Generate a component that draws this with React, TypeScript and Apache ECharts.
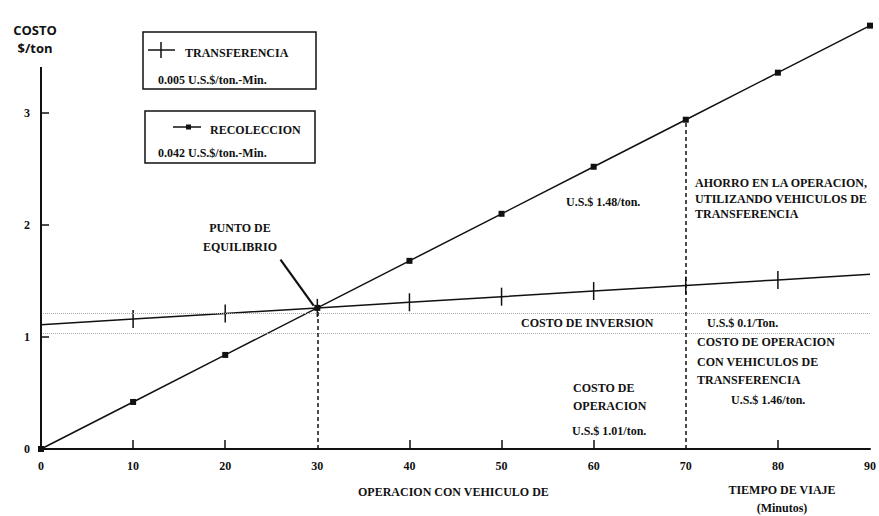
import React, { useEffect, useRef } from "react";
import * as echarts from "echarts";

const minutes = [0, 10, 20, 30, 40, 50, 60, 70, 80, 90];
const transferencia = [1.11, 1.16, 1.21, 1.26, 1.31, 1.36, 1.41, 1.46, 1.51, 1.56];
const recoleccion = [0, 0.42, 0.84, 1.26, 1.68, 2.1, 2.52, 2.94, 3.36, 3.78];
const yLabels = [0, 1, 2, 3];
const yTicks = [1, 2, 3];
const xLabels = [0, 10, 20, 30, 40, 50, 60, 70, 80, 90];
const xTicks = [10, 20, 40, 50, 60, 80];
const inversionBand = [1.21, 1.035];
const breakEven = [30, 1.26];
const compareAt = [70, 2.94];
const yAxisTop = 3.41;
const arrowFrom = [26, 1.69];

const SERIF = "Liberation Serif";
const SANS = "Open Sans";

const txt = (x: number, y: number, text: string, extra: any = {}) => ({
  type: "text",
  x,
  y,
  silent: true,
  style: {
    text,
    fill: "#111",
    fontFamily: SERIF,
    fontWeight: "bold",
    fontSize: 12,
    textVerticalAlign: "middle",
    ...extra,
  },
});

export default function App() {
  const ref = useRef<HTMLDivElement>(null);
  useEffect(() => {
    const chart = echarts.init(ref.current!, null, { renderer: "svg" });
    const option: any = {
      animation: false,
      backgroundColor: "#fff",
      grid: { left: 41, right: 2, top: 23.4, bottom: 67 },
      xAxis: {
        type: "value",
        min: 0,
        max: 90,
        interval: 10,
        splitLine: { show: false },
        axisLine: { show: true, lineStyle: { color: "#111", width: 2 } },
        axisTick: {
          show: true,
          inside: true,
          length: 9,
          customValues: xTicks,
          lineStyle: { color: "#111", width: 1.5 },
        },
        axisLabel: {
          customValues: xLabels,
          margin: 11,
          color: "#111",
          fontFamily: SERIF,
          fontWeight: "bold",
          fontSize: 12,
        },
      },
      yAxis: {
        type: "value",
        min: 0,
        max: 3.8,
        interval: 1,
        splitLine: { show: false },
        axisLine: { show: false },
        axisTick: {
          show: true,
          inside: true,
          length: 8,
          customValues: yTicks,
          lineStyle: { color: "#111", width: 1.5 },
        },
        axisLabel: {
          customValues: yLabels,
          margin: 11,
          color: "#111",
          fontFamily: SERIF,
          fontWeight: "bold",
          fontSize: 12,
        },
      },
      series: [
        {
          name: "TRANSFERENCIA",
          type: "line",
          clip: false,
          data: minutes.map((m, i) => ({
            value: [m, transferencia[i]],
            symbol: i === 0 || i === minutes.length - 1 ? "none" : "rect",
          })),
          symbolSize: [1.5, 18],
          itemStyle: { color: "#111" },
          lineStyle: { color: "#111", width: 1.5 },
          markLine: {
            silent: true,
            symbol: "none",
            label: { show: false },
            lineStyle: { color: "#aaa", type: "dotted", width: 1 },
            data: inversionBand.map((v) => ({ yAxis: v })),
          },
        },
        {
          name: "RECOLECCION",
          type: "line",
          clip: false,
          data: minutes.map((m, i) => [m, recoleccion[i]]),
          symbol: "rect",
          symbolSize: 6,
          itemStyle: { color: "#111" },
          lineStyle: { color: "#111", width: 1.5 },
          markLine: {
            silent: true,
            symbol: "none",
            label: { show: false },
            lineStyle: { color: "#111", type: [4, 3], width: 1.5 },
            data: [
              [{ coord: [breakEven[0], 0] }, { coord: breakEven }],
              [{ coord: [compareAt[0], 0] }, { coord: compareAt }],
              [
                { coord: [0, 0], lineStyle: { type: "solid", width: 2 } },
                { coord: [0, yAxisTop] },
              ],
              [
                { coord: arrowFrom, lineStyle: { type: "solid", width: 2.2 } },
                { coord: [breakEven[0] - 0.4, breakEven[1] + 0.02] },
              ],
            ],
          },
        },
      ],
      graphic: [
        txt(35, 30, "COSTO", { fontFamily: SANS, fontSize: 13, textAlign: "center" }),
        txt(35, 48, "$/ton", { fontFamily: SANS, fontSize: 13, textAlign: "center" }),
        {
          type: "rect",
          shape: { x: 143, y: 32, width: 173, height: 57 },
          style: { fill: "none", stroke: "#111", lineWidth: 1.5 },
        },
        { type: "line", shape: { x1: 148, y1: 50, x2: 175, y2: 50 }, style: { stroke: "#111", lineWidth: 1.5 } },
        { type: "line", shape: { x1: 161, y1: 42, x2: 161, y2: 58 }, style: { stroke: "#111", lineWidth: 1.5 } },
        txt(185, 53, "TRANSFERENCIA"),
        txt(158, 80, "0.005 U.S.$/ton.-Min."),
        {
          type: "rect",
          shape: { x: 145, y: 111, width: 170, height: 52 },
          style: { fill: "none", stroke: "#111", lineWidth: 1.5 },
        },
        { type: "line", shape: { x1: 173, y1: 127, x2: 201, y2: 127 }, style: { stroke: "#111", lineWidth: 1.5 } },
        { type: "rect", shape: { x: 186, y: 124.5, width: 5, height: 5 }, style: { fill: "#111" } },
        txt(210, 130, "RECOLECCION"),
        txt(158, 153, "0.042 U.S.$/ton.-Min."),
        txt(240, 228, "PUNTO DE", { textAlign: "center" }),
        txt(240, 247, "EQUILIBRIO", { textAlign: "center" }),
        txt(566, 202, "U.S.$ 1.48/ton."),
        txt(695, 183, "AHORRO EN LA OPERACION,"),
        txt(695, 199, "UTILIZANDO VEHICULOS DE"),
        txt(695, 214, "TRANSFERENCIA"),
        txt(521, 323, "COSTO DE INVERSION"),
        txt(707, 323, "U.S.$ 0.1/Ton."),
        txt(697, 342, "COSTO DE OPERACION"),
        txt(697, 362, "CON VEHICULOS DE"),
        txt(697, 380, "TRANSFERENCIA"),
        txt(731, 400, "U.S.$ 1.46/ton."),
        txt(573, 388, "COSTO DE"),
        txt(573, 406, "OPERACION"),
        txt(572, 431, "U.S.$ 1.01/ton."),
        txt(358, 492, "OPERACION CON VEHICULO DE"),
        txt(782, 490, "TIEMPO DE VIAJE", { textAlign: "center" }),
        txt(782, 508, "(Minutos)", { textAlign: "center" }),
      ],
    };
    chart.setOption(option);
    return () => chart.dispose();
  }, []);
  return (
    <div
      ref={ref}
      style={{ position: "fixed", left: 0, top: 0, width: 879, height: 516, background: "#fff" }}
    />
  );
}
